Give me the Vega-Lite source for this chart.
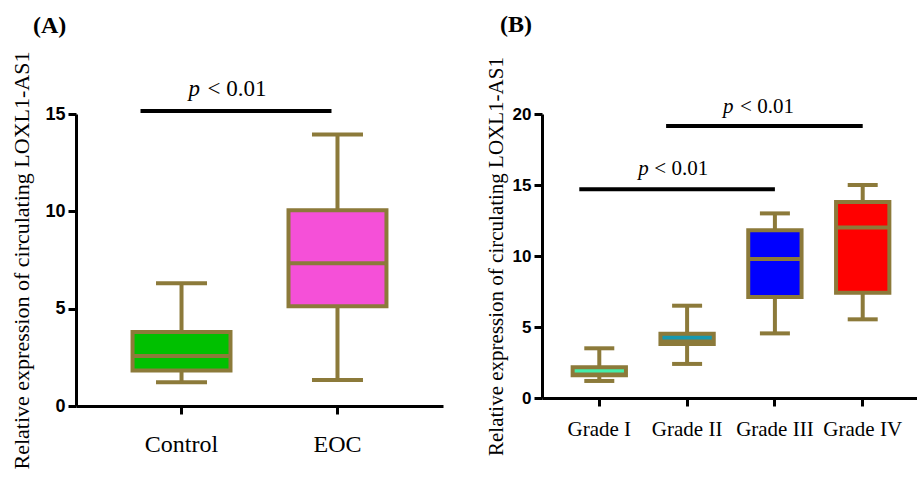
{
  "$schema": "https://vega.github.io/schema/vega-lite/v6.json",
  "padding": {"left": 10, "top": 12, "right": 0, "bottom": 0},
  "background": "white",
  "config": {
    "view": {"stroke": null},
    "axis": {"domainColor": "black", "domainWidth": 3, "tickColor": "black", "tickWidth": 3, "tickSize": 8, "grid": false, "labelColor": "black", "titleColor": "black"},
    "title": {"color": "black"}
  },
  "datasets": {
    "boxA": [
      {"group": "Control", "min": 1.22, "q1": 1.83, "median": 2.57, "q3": 3.8, "max": 6.3},
      {"group": "EOC", "min": 1.34, "q1": 5.12, "median": 7.33, "q3": 10.05, "max": 13.95}
    ],
    "sigA": [
      {"from": "Control", "to": "EOC", "y": 15.15, "ty": 15.9, "p": "p", "label": "< 0.01"}
    ],
    "boxB": [
      {"group": "Grade I", "min": 1.2, "q1": 1.6, "median": 1.65, "q3": 2.16, "max": 3.5},
      {"group": "Grade II", "min": 2.4, "q1": 3.8, "median": 3.98, "q3": 4.53, "max": 6.5},
      {"group": "Grade III", "min": 4.55, "q1": 7.11, "median": 9.79, "q3": 11.81, "max": 13.0},
      {"group": "Grade IV", "min": 5.54, "q1": 7.42, "median": 12.0, "q3": 13.8, "max": 15.0}
    ],
    "sigB1": [
      {"from": "Grade I", "to": "Grade III", "y": 14.7, "ty": 15.7, "p": "p", "label": "< 0.01"}
    ],
    "sigB2": [
      {"from": "Grade II", "to": "Grade IV", "y": 19.15, "ty": 20.07, "p": "p", "label": "< 0.01"}
    ]
  },
  "resolve": {"scale": {"fill": "independent", "x": "independent", "y": "independent"}},
  "hconcat": [
    {
      "width": 367,
      "height": 292,
      "title": {"text": "(A)", "anchor": "start", "frame": "group", "dx": -43, "offset": 13, "fontSize": 24, "font": "Liberation Serif", "fontWeight": "bold"},
      "layer": [
        {
          "data": {"name": "boxA"},
          "mark": {"type": "rule", "color": "#8c7a3a", "strokeWidth": 4},
          "encoding": {
            "x": {"field": "group", "type": "nominal", "sort": ["Control", "EOC"],
              "scale": {"type": "band", "paddingInner": 0.372, "paddingOuter": 0.3625},
              "axis": {"title": null, "labelAngle": 0, "labelFont": "Liberation Serif", "labelFontSize": 24, "labelPadding": 18}},
            "y": {"field": "min", "type": "quantitative", "scale": {"domain": [0, 15], "nice": false},
              "axis": {"values": [0, 5, 10, 15], "title": "Relative expression of circulating LOXL1-AS1", "titleFont": "Liberation Serif", "titleFontSize": 22, "titleFontWeight": "normal", "titlePadding": 11, "labelFont": "Liberation Sans", "labelFontWeight": "bold", "labelFontSize": 18, "labelPadding": 3}},
            "y2": {"field": "max"}
          }
        },
        {
          "data": {"name": "boxA"},
          "mark": {"type": "tick", "color": "#8c7a3a", "size": 51, "thickness": 4, "opacity": 1},
          "encoding": {"x": {"field": "group", "type": "nominal", "sort": ["Control", "EOC"]}, "y": {"field": "min", "type": "quantitative"}}
        },
        {
          "data": {"name": "boxA"},
          "mark": {"type": "tick", "color": "#8c7a3a", "size": 51, "thickness": 4, "opacity": 1},
          "encoding": {"x": {"field": "group", "type": "nominal", "sort": ["Control", "EOC"]}, "y": {"field": "max", "type": "quantitative"}}
        },
        {
          "data": {"name": "boxA"},
          "mark": {"type": "bar", "stroke": "#8c7a3a", "strokeWidth": 4, "opacity": 1},
          "encoding": {
            "x": {"field": "group", "type": "nominal", "sort": ["Control", "EOC"]},
            "y": {"field": "q1", "type": "quantitative"},
            "y2": {"field": "q3"},
            "fill": {"field": "group", "type": "nominal", "scale": {"domain": ["Control", "EOC"], "range": ["#00c000", "#f550d8"]}, "legend": null}
          }
        },
        {
          "data": {"name": "boxA"},
          "mark": {"type": "tick", "color": "#8c7a3a", "size": 98, "thickness": 4, "opacity": 1},
          "encoding": {"x": {"field": "group", "type": "nominal", "sort": ["Control", "EOC"]}, "y": {"field": "median", "type": "quantitative"}}
        },
        {
          "data": {"name": "sigA"},
          "mark": {"type": "rule", "color": "black", "strokeWidth": 4, "xOffset": -41, "x2Offset": -6},
          "encoding": {"x": {"field": "from", "type": "nominal", "sort": ["Control", "EOC"]}, "x2": {"field": "to"}, "y": {"field": "y", "type": "quantitative"}}
        },
        {
          "data": {"name": "sigA"},
          "mark": {"type": "text", "font": "Liberation Serif", "fontSize": 23, "fontStyle": "italic", "align": "left", "baseline": "alphabetic", "dx": 7, "color": "black"},
          "encoding": {"x": {"field": "from", "type": "nominal", "sort": ["Control", "EOC"]}, "y": {"field": "ty", "type": "quantitative"}, "text": {"field": "p"}}
        },
        {
          "data": {"name": "sigA"},
          "mark": {"type": "text", "font": "Liberation Serif", "fontSize": 23, "align": "left", "baseline": "alphabetic", "dx": 26, "color": "black"},
          "encoding": {"x": {"field": "from", "type": "nominal", "sort": ["Control", "EOC"]}, "y": {"field": "ty", "type": "quantitative"}, "text": {"field": "label"}}
        }
      ]
    },
    {
      "width": 378,
      "height": 284,
      "title": {"text": "(B)", "anchor": "start", "frame": "group", "dx": -42, "offset": 20, "fontSize": 24, "font": "Liberation Serif", "fontWeight": "bold"},
      "layer": [
        {
          "data": {"name": "boxB"},
          "mark": {"type": "rule", "color": "#8c7a3a", "strokeWidth": 4},
          "encoding": {
            "x": {"field": "group", "type": "nominal", "sort": ["Grade I", "Grade II", "Grade III", "Grade IV"],
              "scale": {"type": "band", "paddingInner": 0.393, "paddingOuter": 0.349},
              "axis": {"title": null, "labelAngle": 0, "labelFont": "Liberation Serif", "labelFontSize": 21, "labelPadding": 12}},
            "y": {"field": "min", "type": "quantitative", "scale": {"domain": [0, 20], "nice": false},
              "axis": {"values": [0, 5, 10, 15, 20], "title": "Relative expression of circulating LOXL1-AS1", "titleFont": "Liberation Serif", "titleFontSize": 21, "titleFontWeight": "normal", "titlePadding": 6, "labelFont": "Liberation Sans", "labelFontWeight": "bold", "labelFontSize": 17, "labelPadding": 3}},
            "y2": {"field": "max"}
          }
        },
        {
          "data": {"name": "boxB"},
          "mark": {"type": "tick", "color": "#8c7a3a", "size": 30, "thickness": 4, "opacity": 1},
          "encoding": {"x": {"field": "group", "type": "nominal", "sort": ["Grade I", "Grade II", "Grade III", "Grade IV"]}, "y": {"field": "min", "type": "quantitative"}}
        },
        {
          "data": {"name": "boxB"},
          "mark": {"type": "tick", "color": "#8c7a3a", "size": 30, "thickness": 4, "opacity": 1},
          "encoding": {"x": {"field": "group", "type": "nominal", "sort": ["Grade I", "Grade II", "Grade III", "Grade IV"]}, "y": {"field": "max", "type": "quantitative"}}
        },
        {
          "data": {"name": "boxB"},
          "mark": {"type": "bar", "stroke": "#8c7a3a", "strokeWidth": 4, "opacity": 1},
          "encoding": {
            "x": {"field": "group", "type": "nominal", "sort": ["Grade I", "Grade II", "Grade III", "Grade IV"]},
            "y": {"field": "q1", "type": "quantitative"},
            "y2": {"field": "q3"},
            "fill": {"field": "group", "type": "nominal", "scale": {"domain": ["Grade I", "Grade II", "Grade III", "Grade IV"], "range": ["#44eeaa", "#1599b0", "#0000ff", "#ff0000"]}, "legend": null}
          }
        },
        {
          "data": {"name": "boxB"},
          "mark": {"type": "tick", "color": "#8c7a3a", "size": 53, "thickness": 4, "opacity": 1},
          "encoding": {"x": {"field": "group", "type": "nominal", "sort": ["Grade I", "Grade II", "Grade III", "Grade IV"]}, "y": {"field": "median", "type": "quantitative"}}
        },
        {
          "data": {"name": "sigB1"},
          "mark": {"type": "rule", "color": "black", "strokeWidth": 4, "xOffset": -20, "x2Offset": 0},
          "encoding": {"x": {"field": "from", "type": "nominal", "sort": ["Grade I", "Grade II", "Grade III", "Grade IV"]}, "x2": {"field": "to"}, "y": {"field": "y", "type": "quantitative"}}
        },
        {
          "data": {"name": "sigB1"},
          "mark": {"type": "text", "font": "Liberation Serif", "fontSize": 21, "fontStyle": "italic", "align": "left", "baseline": "alphabetic", "dx": 39, "color": "black"},
          "encoding": {"x": {"field": "from", "type": "nominal", "sort": ["Grade I", "Grade II", "Grade III", "Grade IV"]}, "y": {"field": "ty", "type": "quantitative"}, "text": {"field": "p"}}
        },
        {
          "data": {"name": "sigB1"},
          "mark": {"type": "text", "font": "Liberation Serif", "fontSize": 21, "align": "left", "baseline": "alphabetic", "dx": 55, "color": "black"},
          "encoding": {"x": {"field": "from", "type": "nominal", "sort": ["Grade I", "Grade II", "Grade III", "Grade IV"]}, "y": {"field": "ty", "type": "quantitative"}, "text": {"field": "label"}}
        },
        {
          "data": {"name": "sigB2"},
          "mark": {"type": "rule", "color": "black", "strokeWidth": 4, "xOffset": -21, "x2Offset": 0},
          "encoding": {"x": {"field": "from", "type": "nominal", "sort": ["Grade I", "Grade II", "Grade III", "Grade IV"]}, "x2": {"field": "to"}, "y": {"field": "y", "type": "quantitative"}}
        },
        {
          "data": {"name": "sigB2"},
          "mark": {"type": "text", "font": "Liberation Serif", "fontSize": 21, "fontStyle": "italic", "align": "left", "baseline": "alphabetic", "dx": 36, "color": "black"},
          "encoding": {"x": {"field": "from", "type": "nominal", "sort": ["Grade I", "Grade II", "Grade III", "Grade IV"]}, "y": {"field": "ty", "type": "quantitative"}, "text": {"field": "p"}}
        },
        {
          "data": {"name": "sigB2"},
          "mark": {"type": "text", "font": "Liberation Serif", "fontSize": 21, "align": "left", "baseline": "alphabetic", "dx": 53, "color": "black"},
          "encoding": {"x": {"field": "from", "type": "nominal", "sort": ["Grade I", "Grade II", "Grade III", "Grade IV"]}, "y": {"field": "ty", "type": "quantitative"}, "text": {"field": "label"}}
        }
      ]
    }
  ],
  "spacing": 99,
  "bounds": "flush"
}
